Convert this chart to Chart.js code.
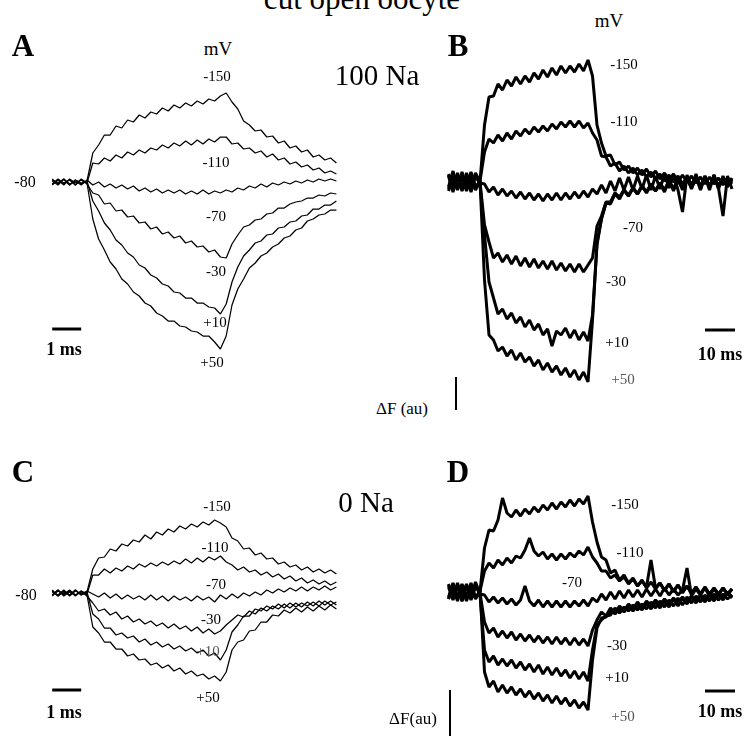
<!DOCTYPE html>
<html><head><meta charset="utf-8">
<script src="https://cdn.jsdelivr.net/npm/chart.js@4.4.1/dist/chart.umd.min.js"></script>
<style>
html,body{margin:0;padding:0;background:#fff;}
#fig{position:relative;width:747px;height:736px;overflow:hidden;background:#fff;font-family:"Liberation Serif","Times New Roman",serif;color:#000;}
#fig canvas{position:absolute;}
.lbl{position:absolute;white-space:nowrap;line-height:1;transform:translateX(-50%);}
</style></head><body><div id="fig">
<canvas id="cA"></canvas><canvas id="cB"></canvas><canvas id="cC"></canvas><canvas id="cD"></canvas>
</div>
<script>
// ---------- DATA ----------
// Panels A and C: time in ms (0 = start of voltage step), Delta F in arbitrary units
const timeAC = [-1.2,-1.0,-0.8,-0.6,-0.4,-0.2,0,0.2,0.4,0.6,0.8,1.0,1.2,1.4,1.6,1.8,2.0,2.2,2.4,2.6,2.8,3.0,3.2,3.4,3.6,3.8,4.0,4.2,4.4,4.6,4.8,5.0,5.2,5.4,5.6,5.8,6.0,6.2,6.4,6.6,6.8,7.0,7.2,7.4,7.6,7.8,8.0,8.2,8.4,8.6];
const stepLabels = ["-150","-110","-70","-30","+10","+50"];

const A_m150 = [0.3,-0.2,0.25,-0.3,0.2,-0.2,0.1, 2.9,3.7,4.7,4.7,5.6,5.4,6.2,6.0,6.7,6.4,7.0,6.8,7.4,7.1,7.7,7.4,7.9,7.6,8.1,7.8,8.3,8.1,8.6,8.9, 8.0,7.3,6.1,5.7,5.1,5.2,4.5,4.6,3.9,4.1,3.4,3.6,3.0,3.2,2.5,2.7,2.2,2.4,1.9];
const A_m110 = [-0.2,0.3,-0.1,0.2,-0.3,0.25,-0.1, 1.9,1.8,2.4,2.1,2.7,2.4,3.0,2.7,3.2,2.9,3.4,3.2,3.7,3.4,3.9,3.6,4.1,3.7,4.2,3.8,4.3,4.0,4.5,4.5, 3.8,3.9,3.3,3.4,2.9,3.1,2.5,2.8,2.2,2.4,1.8,2.0,1.5,1.7,1.2,1.4,0.9,1.1,0.8];
const A_m70  = [0.1,-0.3,0.3,-0.2,0.1,-0.3,0.2, -0.3,0.0,-0.5,-0.2,-0.6,-0.3,-0.7,-0.4,-0.9,-0.6,-1.0,-0.7,-1.1,-0.8,-1.1,-0.8,-1.2,-0.9,-1.2,-0.8,-1.2,-0.9,-1.1,-0.8, -1.0,-0.6,-0.8,-0.4,-0.6,-0.2,-0.5,-0.1,-0.3,0.0,-0.2,0.1,-0.1,0.2,0.0,0.3,0.1,0.3,0.1];
const A_m30  = [-0.2,0.2,-0.3,0.3,-0.1,0.2,-0.2, -1.1,-1.3,-2.2,-2.1,-2.9,-2.8,-3.5,-3.4,-4.1,-4.0,-4.7,-4.5,-5.2,-5.0,-5.6,-5.4,-6.1,-5.9,-6.5,-6.4,-7.0,-6.8,-7.5,-7.6, -6.2,-5.3,-4.5,-4.3,-3.8,-3.7,-3.2,-3.1,-2.6,-2.6,-2.2,-2.0,-1.9,-1.6,-1.6,-1.3,-1.4,-1.1,-1.2];
const A_p10  = [0.2,-0.1,0.3,-0.3,0.2,-0.1,0.1, -1.9,-2.9,-4.1,-4.8,-5.8,-6.3,-7.1,-7.5,-8.3,-8.6,-9.3,-9.6,-10.2,-10.4,-11.0,-11.1,-11.6,-11.6,-12.1,-12.1,-12.5,-12.6,-13.2,-12.2, -10.0,-8.5,-7.4,-6.8,-6.1,-5.9,-5.3,-5.2,-4.6,-4.5,-4.0,-3.9,-3.4,-3.3,-2.7,-2.7,-2.3,-2.3,-1.9];
const A_p50  = [-0.3,0.2,-0.2,0.25,-0.3,0.3,-0.1, -3.7,-5.7,-6.8,-8.0,-8.7,-9.7,-10.2,-11.0,-11.4,-12.1,-12.4,-13.1,-13.4,-13.9,-13.9,-14.4,-14.5,-14.9,-15.0,-15.4,-15.4,-16.0,-16.7,-15.4, -12.3,-10.7,-9.7,-8.6,-8.1,-7.4,-7.1,-6.5,-6.2,-5.6,-5.4,-4.8,-4.6,-3.9,-3.7,-3.3,-3.2,-2.8,-2.8];

const C_m150 = [0.3,-0.3,0.2,-0.2,0.3,-0.2,0.1, 2.4,3.5,3.6,4.4,4.2,4.9,4.7,5.3,5.1,5.8,5.4,6.1,5.8,6.4,6.1,6.7,6.4,6.9,6.6,7.1,6.8,7.3,7.0,6.6, 5.5,5.2,4.4,4.5,3.8,4.0,3.4,3.5,2.9,3.1,2.6,2.8,2.3,2.6,2.1,2.4,2.0,2.3,1.9];
const C_m110 = [-0.2,0.3,-0.2,0.2,-0.3,0.2,-0.1, 1.8,1.8,2.4,2.0,2.5,2.2,2.7,2.4,2.9,2.6,3.0,2.7,3.1,2.8,3.2,2.9,3.4,3.0,3.5,3.1,3.6,3.3,3.7,3.1, 2.8,2.3,2.6,2.1,2.3,1.8,2.1,1.6,1.9,1.4,1.7,1.2,1.5,1.0,1.3,0.9,1.2,0.8,1.1];
const C_m70  = [0.1,-0.2,0.3,-0.3,0.2,-0.1,0.2, -0.1,-0.4,0.0,-0.5,-0.1,-0.6,-0.2,-0.6,-0.3,-0.7,-0.2,-0.7,-0.3,-0.8,-0.3,-0.7,-0.4,-0.8,-0.3,-0.7,-0.4,-0.9,-0.2,-0.6, -0.1,-0.5,0.0,-0.3,0.1,-0.2,0.3,0.0,0.4,0.1,0.5,0.2,0.6,0.2,0.6,0.3,0.7,0.3,0.6];
const C_m30  = [-0.3,0.2,-0.1,0.3,-0.2,0.1,-0.3, -1.0,-1.8,-1.6,-2.2,-1.9,-2.6,-2.3,-2.9,-2.6,-3.1,-2.8,-3.3,-3.0,-3.5,-3.1,-3.6,-3.3,-3.8,-3.4,-4.0,-3.6,-4.1,-3.8,-3.2, -2.7,-2.2,-2.4,-1.8,-2.1,-1.5,-1.8,-1.3,-1.6,-1.1,-1.5,-1.0,-1.4,-0.9,-1.3,-0.8,-1.2,-0.8,-1.2];
const C_p10  = [0.2,-0.3,0.1,-0.2,0.3,-0.2,0.1, -2.1,-2.6,-3.5,-3.5,-4.2,-4.0,-4.5,-4.3,-4.9,-4.6,-5.2,-4.9,-5.4,-5.1,-5.6,-5.3,-5.8,-5.5,-6.0,-5.7,-6.3,-6.0,-6.7,-5.7, -3.9,-3.2,-2.3,-2.3,-1.6,-1.8,-1.3,-1.6,-1.1,-1.5,-1.0,-1.4,-1.0,-1.3,-0.9,-1.3,-0.8,-1.2,-0.9];
const C_p50  = [-0.2,0.3,-0.3,0.1,-0.2,0.2,-0.2, -3.4,-4.0,-4.9,-4.9,-5.6,-5.6,-6.3,-6.1,-6.7,-6.6,-7.2,-7.0,-7.5,-7.2,-7.8,-7.5,-8.1,-7.8,-8.3,-8.1,-8.6,-8.3,-8.8,-7.9, -5.7,-4.9,-4.7,-3.8,-3.7,-2.9,-2.9,-2.2,-2.3,-1.7,-2.0,-1.5,-1.9,-1.4,-1.8,-1.3,-1.7,-1.2,-1.6];

// Panels B and D: time in ms, Delta F in arbitrary units
const timeBD = [-10.5,-9,-7.5,-6,-4.5,-3,-1.5,0,1.5,3,4.5,6,7.5,9,10.5,12,13.5,15,16.5,18,19.5,21,22.5,24,25.5,27,28.5,30,31.5,33,34.5,36,37.5,39,40.5,42,43.5,45,46.5,48,49.5,51,52.5,54,55.5,57,58.5,60,61.5,63,64.5,66,67.5,69,70.5,72,73.5,75,76.5,78,79.5,81,82.5,84];

const B_m150 = [0.8,-0.6,0.7,-0.9,0.5,-0.7,0.9, 0.0, 5.7,8.5,8.6,9.8,9.2,10.2,9.6,10.5,9.8,10.6,10.0,10.9,10.3,11.2,10.5,11.4,10.7,11.6,10.9,11.6,11.0,11.8,11.1,12.2, 10.6, 5.7,3.9,2.6,2.7,1.7,2.0,1.2,1.6,0.9,1.4,0.7,1.3,0.5,1.1,0.3,0.9,0.2,0.8,0.0,0.7,0.0,0.6,-0.1,0.5,-0.2,0.5,-0.2,0.4,-0.3,0.4,-0.2];
const B_m110 = [-0.7,0.9,-0.8,0.6,-0.5,1.0,-0.6, 0.1, 3.0,4.3,3.9,4.7,4.1,4.9,4.3,5.1,4.6,5.3,4.8,5.5,5.0,5.6,5.1,5.8,5.3,6.0,5.5,6.1,5.5,6.1,5.4,5.9, 4.9, 4.2,2.6,2.5,1.6,1.9,1.1,1.6,0.9,1.4,0.7,1.2,0.5,1.0,0.3,0.8,0.1,0.7,0.0,0.6,-0.2,0.5,-0.2,0.4,-0.3,0.4,-0.3,0.3,-0.4,0.3,-0.2,0.3];
const B_m70  = [0.6,-1.0,0.5,-0.7,0.9,-0.5,0.7, -0.1, -0.2,-1.0,-0.5,-1.3,-0.7,-1.4,-0.9,-1.6,-1.0,-1.7,-1.1,-1.8,-1.2,-1.9,-1.2,-1.8,-1.1,-1.8,-1.1,-1.7,-1.0,-1.6,-0.9,-1.5, -0.7, -1.2,-0.3,-1.1,0.1,-0.9,0.4,-0.8,0.5,-0.8,0.6,-0.7,0.7,-0.8,0.6,-0.7,0.8,-0.6,0.7,-0.8,-3.0,0.7,-0.6,0.8,-0.7,0.6,-0.8,0.7,-0.6,-3.4,0.6,-0.7];
const B_m30  = [-0.5,1.1,-0.7,0.5,-0.9,0.7,-0.4, 0.0, -4.3,-6.0,-7.6,-7.1,-8.0,-7.3,-8.2,-7.4,-8.4,-7.6,-8.5,-7.7,-8.6,-7.9,-8.7,-7.9,-8.8,-8.1,-8.9,-8.2,-9.0,-8.2,-9.0,-8.3, -7.6, -4.4,-3.4,-2.0,-2.0,-1.1,-1.5,-0.8,-1.3,-0.6,-1.2,-0.4,-1.0,-0.3,-0.9,-0.1,-1.0,0.2,-0.9,0.3,-0.8,0.5,-0.7,0.5,-0.8,0.6,-0.6,0.7,-0.7,0.6,-0.5,0.4];
const B_p10  = [0.7,-0.5,0.9,-0.8,0.4,-1.0,0.6, -0.2, -5.3,-10.0,-11.6,-13.2,-12.7,-13.7,-13.1,-14.1,-13.5,-14.5,-13.8,-14.8,-14.2,-15.3,-14.7,-16.4,-14.9,-15.3,-14.6,-15.6,-14.8,-15.8,-15.0,-15.9, -13.3, -6.3,-3.6,-2.1,-2.1,-1.1,-1.6,-0.8,-1.4,-0.6,-1.2,-0.4,-1.0,-0.2,-0.9,-0.1,-0.8,0.1,-0.6,0.2,-0.6,0.2,-0.5,0.3,-0.4,0.3,-0.3,0.3,-0.4,0.4,-0.2,0.3];
const B_p50  = [-0.9,0.5,-0.6,1.0,-0.7,0.4,-0.8, 0.1, -9.8,-15.3,-15.8,-16.9,-16.5,-17.4,-16.8,-17.8,-17.1,-18.0,-17.5,-18.4,-17.8,-18.8,-18.1,-19.0,-18.4,-19.3,-18.6,-19.5,-18.8,-19.8,-19.0,-20.0, -13.8, -6.1,-3.7,-2.1,-2.2,-1.2,-1.7,-0.8,-1.4,-0.6,-1.2,-0.4,-1.1,-0.2,-0.9,-0.1,-0.8,0.0,-0.7,0.1,-0.6,0.2,-0.5,0.3,-0.4,0.2,-0.4,0.3,-0.3,0.4,-0.3,0.2];

const D_m150 = [0.7,-0.6,0.9,-0.5,0.8,-0.8,0.5, 0.0, 4.4,6.2,6.1,7.2,9.4,7.9,7.5,8.2,7.6,8.3,7.8,8.5,8.0,8.7,8.2,8.9,8.3,9.0,8.5,9.2,8.6,9.3,8.8,9.6, 7.0, 5.0,3.5,3.2,1.9,2.2,1.2,1.7,0.9,1.4,0.6,1.2,0.4,1.0,0.3,0.9,0.1,0.8,0.0,0.7,-0.1,0.6,-0.2,0.5,-0.2,0.5,-0.3,0.4,-0.2,0.4,-0.3,0.3];
const D_m110 = [-0.7,0.5,-0.9,0.8,-0.5,0.9,-0.6, 0.1, 2.1,2.9,2.4,3.2,2.7,3.4,2.9,3.6,3.4,4.2,5.4,4.1,3.6,4.0,3.3,3.8,3.2,3.8,3.3,3.9,3.5,4.1,3.7,4.5, 3.5, 2.9,2.1,2.1,1.4,1.7,1.1,1.5,0.8,1.3,0.6,1.1,0.5,3.2,0.4,0.9,0.2,0.8,0.1,0.7,0.0,0.6,-0.1,0.5,-0.2,0.5,-0.2,0.4,-0.3,0.4,-0.2,0.3];
const D_m70  = [0.5,-0.8,0.7,-0.9,0.6,-0.5,1.0, -0.2, -0.3,-1.0,-0.5,-1.1,-0.6,-1.2,-0.7,-1.3,-0.8,0.6,-0.9,-1.4,-0.8,-1.5,-0.9,-1.5,-0.9,-1.5,-0.9,-1.5,-0.9,-1.4,-0.8,-1.4, -0.6, -1.0,-0.2,-0.8,0.0,-0.7,0.1,-0.6,0.2,-0.5,0.2,-0.5,0.3,-0.4,0.3,-0.4,0.4,-0.3,0.3,-0.3,0.2,2.4,-0.4,0.3,-0.3,0.4,-0.4,0.3,-0.3,0.4,-0.2,0.3];
const D_m30  = [-0.5,0.8,-0.7,0.5,-0.9,0.7,-0.6, -0.1, -3.0,-4.1,-3.6,-4.5,-3.9,-4.6,-4.0,-4.8,-4.2,-4.9,-4.3,-5.0,-4.4,-5.1,-4.5,-5.2,-4.5,-5.2,-4.6,-5.3,-4.6,-5.3,-4.7,-5.4, -3.8, -2.8,-2.0,-2.4,-1.6,-2.1,-1.4,-1.9,-1.2,-1.7,-1.0,-1.6,-0.9,-1.4,-0.8,-1.3,-0.7,-1.2,-0.6,-1.1,-0.5,-1.0,-0.4,-0.9,-0.3,-0.8,-0.2,-0.7,-0.1,-0.6,0.0,-0.5];
const D_p10  = [0.8,-0.5,0.6,-0.9,0.7,-0.4,0.7, -0.3, -5.8,-7.0,-6.4,-7.3,-6.7,-7.4,-6.8,-7.6,-7.0,-7.8,-7.2,-8.0,-7.3,-8.2,-7.5,-8.3,-7.6,-8.4,-7.8,-8.6,-7.9,-8.7,-8.0,-8.9, -5.8, -3.3,-2.8,-2.4,-2.3,-1.6,-2.1,-1.5,-1.9,-1.3,-1.8,-1.2,-1.7,-1.0,-1.6,-0.9,-1.5,-0.8,-1.4,-0.6,-1.3,-0.5,-1.1,-0.4,-1.0,-0.3,-0.9,-0.2,-0.8,-0.2,-0.7,-0.3];
const D_p50  = [-0.7,0.9,-0.5,0.7,-0.8,0.5,-0.7, 0.2, -8.0,-9.5,-8.9,-10.0,-9.3,-10.1,-9.5,-10.3,-9.7,-10.5,-9.9,-10.7,-10.1,-10.9,-10.3,-11.1,-10.4,-11.2,-10.6,-11.4,-10.8,-11.6,-11.0,-11.8, -6.8, -3.6,-2.6,-2.5,-1.8,-2.2,-1.6,-2.0,-1.4,-1.9,-1.3,-1.8,-1.1,-1.7,-1.0,-1.6,-0.9,-1.5,-0.7,-1.4,-0.6,-1.2,-0.5,-1.1,-0.4,-1.0,-0.3,-0.9,-0.2,-0.8,-0.1,-0.6];

// scale bars (data units): time bars in ms, Delta F bars in au
const scaleA = {t:[-1.2,-0.2], dF:-14.7};
const scaleC = {t:[-1.2,-0.2], dF:-9.7};
const scaleB = {t:[75,85], dF:-14.8, vt:-8, vdF:[-19.5,-22.8]};
const scaleD = {t:[75,85], dF:-9.9, vt:-10, vdF:[-9.8,-14.6]};

// ---------- LAYOUT ----------
const fig = document.getElementById('fig');
function panel(id, box, map, time, series, extras){
  const cv = document.getElementById(id);
  cv.width = box.w; cv.height = box.h;
  cv.style.left = box.l + 'px'; cv.style.top = box.t + 'px';
  const xmin = (box.l - map.x0) / map.px, xmax = (box.l + box.w - map.x0) / map.px;
  const ymax = (map.y0 - box.t) / map.py, ymin = (map.y0 - box.t - box.h) / map.py;
  const datasets = series.map(s => ({
    data: time.map((t, i) => ({x: t, y: s[i]})),
    borderColor: '#000', borderWidth: map.lw, pointRadius: 0, tension: 0,
    fill: false, clip: false, borderJoinStyle: 'bevel'
  }));
  extras.forEach(e => datasets.push({data: e.pts, borderColor: '#000', borderWidth: e.w,
    pointRadius: 0, tension: 0, fill: false, clip: false, borderCapStyle: 'butt'}));
  new Chart(cv, {type: 'line', data: {datasets},
    options: {responsive: false, animation: false, devicePixelRatio: 1, events: [],
      layout: {padding: 0},
      plugins: {legend: {display: false}, tooltip: {enabled: false}},
      scales: {x: {type: 'linear', display: false, min: xmin, max: xmax},
               y: {type: 'linear', display: false, min: ymin, max: ymax}}}});
}
function hbar(s, w){ return {w: w, pts: [{x: s.t[0], y: s.dF}, {x: s.t[1], y: s.dF}]}; }
function vbar(s, w){ return {w: w, pts: [{x: s.vt, y: s.vdF[0]}, {x: s.vt, y: s.vdF[1]}]}; }

panel('cA', {l:30, t:60, w:320, h:320}, {x0:87, px:29, y0:182, py:10, lw:1.25}, timeAC,
  [A_m150, A_m110, A_m70, A_m30, A_p10, A_p50], [hbar(scaleA, 3)]);
panel('cC', {l:30, t:480, w:320, h:256}, {x0:87, px:29, y0:593, py:10, lw:1.25}, timeAC,
  [C_m150, C_m110, C_m70, C_m30, C_p10, C_p50], [hbar(scaleC, 3)]);
panel('cB', {l:440, t:40, w:307, h:380}, {x0:480, px:3, y0:182, py:10, lw:3}, timeBD,
  [B_m150, B_m110, B_m70, B_m30, B_p10, B_p50], [hbar(scaleB, 3), vbar(scaleB, 2)]);
panel('cD', {l:440, t:470, w:307, h:266}, {x0:480, px:3, y0:592, py:10, lw:3}, timeBD,
  [D_m150, D_m110, D_m70, D_m30, D_p10, D_p50], [hbar(scaleD, 3), vbar(scaleD, 2)]);

// ---------- TEXT ----------
function label(text, cx, base, size, bold, color){
  const d = document.createElement('div');
  d.className = 'lbl';
  d.textContent = text;
  d.style.left = cx + 'px';
  d.style.top = (base - 0.8375 * size) + 'px';
  d.style.fontSize = size + 'px';
  if (bold) d.style.fontWeight = 'bold';
  if (color) d.style.color = color;
  fig.appendChild(d);
}
label('cut open oocyte', 362, 9, 31);
label('A', 23, 56, 31, true); label('B', 458, 56, 31, true);
label('C', 23, 482, 31, true); label('D', 458, 482, 31, true);
label('mV', 218, 55, 19); label('mV', 609, 27, 19);
label('100 Na', 377, 85, 29); label('0 Na', 366, 512, 29);
label('-80', 25, 187, 16); label('-80', 26, 600, 16);
const posA = [[217,82],[216,168],[216,222],[216,277],[215,328],[212,368]];
const posB = [[624,70],[624,127],[633,233],[616,287],[617,348],[623,385]];
const posC = [[217,512],[215,553],[216,590],[211,625],[208,657],[208,703]];
const posD = [[625,510],[630,558],[572,588],[617,651],[617,683],[623,722]];
stepLabels.forEach((s, i) => {
  label(s, posA[i][0], posA[i][1], 15);
  label(s, posB[i][0], posB[i][1], 15, false, i === 5 ? '#555' : null);
  label(s, posC[i][0], posC[i][1], 15, false, i === 4 ? '#555' : null);
  label(s, posD[i][0], posD[i][1], 15, false, i === 5 ? '#555' : null);
});
label('1 ms', 64, 355, 18, true); label('1 ms', 64, 718, 18, true);
label('10 ms', 720, 360, 18, true); label('10 ms', 720, 717, 18, true);
label('\u0394F (au)', 402, 414, 17); label('\u0394F(au)', 413, 724, 17);
</script>
</body></html>
